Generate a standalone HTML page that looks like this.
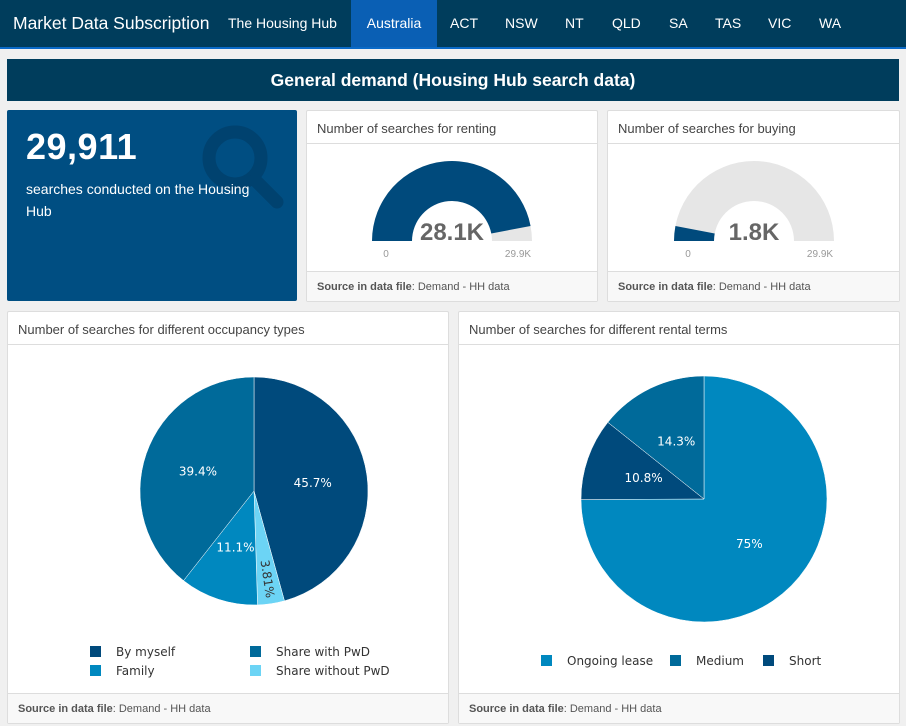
<!DOCTYPE html>
<html><head><meta charset="utf-8">
<style>
*{box-sizing:border-box;margin:0;padding:0}
body{width:906px;height:726px;background:#f0f0f0;font-family:"Liberation Sans",sans-serif;position:relative;overflow:hidden}
.nav{position:absolute;left:0;top:0;width:906px;background:#003d5c;border-bottom:2px solid #0a6ac8;height:49px}
.nav span{position:absolute;top:0;height:47px;line-height:47px;color:#fff;font-size:14px}
.card{position:absolute;background:#fff;border:1px solid #ddd;border-radius:2px}
.hd{position:absolute;left:0;right:0;top:0;height:33px;border-bottom:1px solid #ddd;font-size:13px;color:#444;padding:10px 0 0 10px}
.ft{position:absolute;left:0;right:0;bottom:0;height:30px;border-top:1px solid #ddd;background:#f8f8f8;font-size:11px;color:#555;padding:9px 0 0 10px}
.ft b{color:#555}
svg text{font-family:"DejaVu Sans",sans-serif}
</style></head><body>
<div class="nav">
<span style="left:13px;font-size:17.5px">Market Data Subscription</span>
<span style="left:228px">The Housing Hub</span>
<span style="left:351px;width:86px;background:#0a5fb4;text-align:center">Australia</span>
<span style="left:450px">ACT</span>
<span style="left:505px">NSW</span>
<span style="left:565px">NT</span>
<span style="left:612px">QLD</span>
<span style="left:669px">SA</span>
<span style="left:715px">TAS</span>
<span style="left:768px">VIC</span>
<span style="left:819px">WA</span>
</div>
<div style="position:absolute;left:7px;top:59px;width:892px;height:42px;background:#003d5c;color:#fff;font-weight:bold;font-size:17.5px;text-align:center;line-height:42px">General demand (Housing Hub search data)</div>

<div style="position:absolute;left:7px;top:110px;width:290px;height:191px;background:#004e82;border-radius:2px;color:#fff">
<svg width="290" height="191" style="position:absolute;left:0;top:0">
<circle cx="228" cy="48" r="26" fill="none" stroke="#00426f" stroke-width="13"/>
<line x1="248" y1="70" x2="270" y2="92" stroke="#00426f" stroke-width="13" stroke-linecap="round"/>
</svg>
<div style="position:absolute;left:19px;top:16px;font-size:36px;font-weight:bold;letter-spacing:0.5px">29,911</div>
<div style="position:absolute;left:19px;top:68px;width:240px;font-size:14px;line-height:22px">searches conducted on the Housing Hub</div>
</div>

<div class="card" style="left:306px;top:110px;width:292px;height:192px">
<div class="hd">Number of searches for renting</div>
<svg id="g1" width="292" height="192" style="position:absolute;left:0;top:0"></svg>
<div class="ft"><b>Source in data file</b>: Demand - HH data</div>
</div>
<div class="card" style="left:607px;top:110px;width:293px;height:192px">
<div class="hd">Number of searches for buying</div>
<svg id="g2" width="293" height="192" style="position:absolute;left:0;top:0"></svg>
<div class="ft"><b>Source in data file</b>: Demand - HH data</div>
</div>

<div class="card" style="left:7px;top:311px;width:442px;height:413px">
<div class="hd">Number of searches for different occupancy types</div>
<svg id="p1" width="442" height="413" style="position:absolute;left:0;top:0"></svg>
<div class="ft"><b>Source in data file</b>: Demand - HH data</div>
</div>
<div class="card" style="left:458px;top:311px;width:442px;height:413px">
<div class="hd">Number of searches for different rental terms</div>
<svg id="p2" width="442" height="413" style="position:absolute;left:0;top:0"></svg>
<div class="ft"><b>Source in data file</b>: Demand - HH data</div>
</div>

<script>
const gaugeValues=[28.1,1.8];
const gaugeMax=29.9;
const gaugeLabels=["28.1K","1.8K"];
const occCategories=["By myself","Share without PwD","Family","Share with PwD"];
const occValues=[45.7,3.81,11.1,39.4];
const occLabels=["45.7%","3.81%","11.1%","39.4%"];
const rentCategories=["Ongoing lease","Short","Medium"];
const rentValues=[75,10.8,14.3];
const rentLabels=["75%","10.8%","14.3%"];
const NS="http://www.w3.org/2000/svg";
function mk(svg,tag,attrs){const e=document.createElementNS(NS,tag);for(const k in attrs)e.setAttribute(k,attrs[k]);svg.appendChild(e);return e;}
function arcPath(cx,cy,r0,r1,a0,a1){
 const p=(r,a)=>[cx+r*Math.sin(a),cy-r*Math.cos(a)];
 const large=(a1-a0)>Math.PI?1:0;
 const [x1,y1]=p(r1,a0),[x2,y2]=p(r1,a1);
 if(r0===0){return `M${cx},${cy}L${x1},${y1}A${r1},${r1} 0 ${large} 1 ${x2},${y2}Z`;}
 const [x3,y3]=p(r0,a1),[x4,y4]=p(r0,a0);
 return `M${x1},${y1}A${r1},${r1} 0 ${large} 1 ${x2},${y2}L${x3},${y3}A${r0},${r0} 0 ${large} 0 ${x4},${y4}Z`;
}
function gauge(id,i,cx){
 const svg=document.getElementById(id);const cy=130;
 const bg=mk(svg,'path',{d:arcPath(cx,cy,40,80,-Math.PI/2,Math.PI/2),fill:'#e6e6e6'});
 
 
 const a=-Math.PI/2+Math.PI*gaugeValues[i]/gaugeMax;
 const fg=mk(svg,'path',{d:arcPath(cx,cy,40,80,-Math.PI/2,a),fill:'#004a7c'});
 
 
 const t=mk(svg,'text',{x:cx,y:cy-1,'text-anchor':'middle','font-size':'24','font-weight':'bold',fill:'#666',style:'font-family:"Liberation Sans",sans-serif'});t.textContent=gaugeLabels[i];
 
 
 const t0=mk(svg,'text',{x:cx-66,y:cy+16,'text-anchor':'middle','font-size':'10',fill:'#999',style:'font-family:"Liberation Sans",sans-serif'});t0.textContent='0';
 
 
 const t1=mk(svg,'text',{x:cx+66,y:cy+16,'text-anchor':'middle','font-size':'10',fill:'#999',style:'font-family:"Liberation Sans",sans-serif'});t1.textContent=gaugeMax+'K';
 
 
}
gauge('g1',0,145);gauge('g2',1,146);
function pie(id,cx,cy,r,vals,labs,cols,ratio){
 const svg=document.getElementById(id);const tot=vals.reduce((a,b)=>a+b,0);let a=0;
 vals.forEach((v,i)=>{const a1=a+2*Math.PI*v/tot;
  const s=mk(svg,'path',{d:arcPath(cx,cy,0,r,a,a1),fill:cols[i],stroke:'#fff','stroke-width':'0.5'});
  
  
  const m=(a+a1)/2;const lr=r*ratio;const lx=cx+lr*Math.sin(m),ly=cy-lr*Math.cos(m);
  const small=v<5;
  const sx=cx+r*0.78*Math.sin(m),sy=cy-r*0.78*Math.cos(m);
  const t=mk(svg,'text',{x:small?sx:lx,y:(small?sy:ly)+4,'text-anchor':'middle','font-size':'12',fill:small?'#333':'#fff'});
  if(small)t.setAttribute('transform',`rotate(${m*180/Math.PI-90} ${sx} ${sy})`);
  t.textContent=labs[i];
  
  
  a=a1;});
}
const occColors=['#004a7c','#6cd4f5','#0088bf','#006a9a'];
pie('p1',246,179,114,occValues,occLabels,occColors,0.52);
const rentColors=['#0088bf','#004a7c','#006a9a'];
pie('p2',245,187,123,rentValues,rentLabels,rentColors,0.52);
function legend(id,items){const svg=document.getElementById(id);
 items.forEach(it=>{const r=mk(svg,'rect',{x:it.x,y:it.y-6,width:11,height:11,fill:it.c});
  
  
  const t=mk(svg,'text',{x:it.x+26,y:it.y+4,'font-size':'12',fill:'#333'});t.textContent=it.t;
  
  });}
legend('p1',[{x:82,y:340,c:occColors[0],t:occCategories[0]},{x:242,y:340,c:occColors[3],t:occCategories[3]},{x:82,y:359,c:occColors[2],t:occCategories[2]},{x:242,y:359,c:occColors[1],t:occCategories[1]}]);
legend('p2',[{x:82,y:349,c:rentColors[0],t:rentCategories[0]},{x:211,y:349,c:rentColors[2],t:rentCategories[2]},{x:304,y:349,c:rentColors[1],t:rentCategories[1]}]);
</script>
</body></html>
